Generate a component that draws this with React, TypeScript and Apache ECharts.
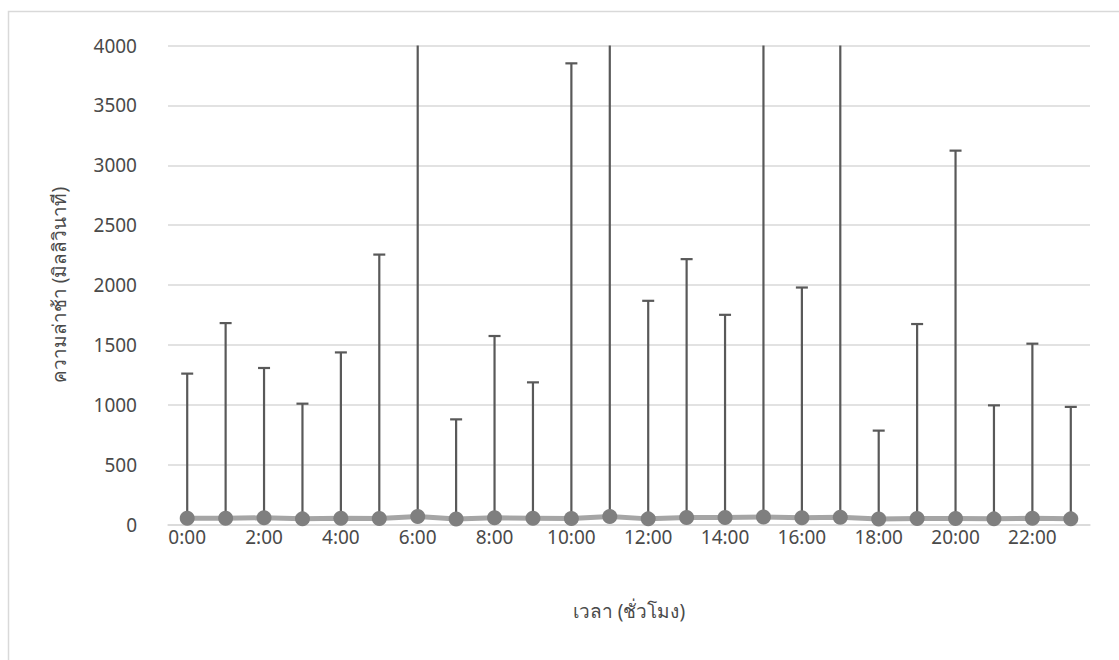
import React, { useEffect, useRef } from "react";
import * as echarts from "echarts";

const hours = [
  "0:00", "1:00", "2:00", "3:00", "4:00", "5:00", "6:00", "7:00", "8:00", "9:00", "10:00", "11:00",
  "12:00", "13:00", "14:00", "15:00", "16:00", "17:00", "18:00", "19:00", "20:00", "21:00", "22:00", "23:00",
];
const meanDelay = [53, 53, 56, 47, 53, 50, 67, 45, 56, 53, 50, 67, 47, 58, 58, 62, 56, 60, 45, 50, 50, 47, 53, 47];
const upperBound = [1260, 1682, 1307, 1009, 1437, 2254, 4600, 878, 1574, 1187, 3851, 4600, 1868, 2216, 1751, 4600, 1979, 4600, 784, 1674, 3122, 995, 1510, 982];
const yTicks = { min: 0, max: 4000, interval: 500 };
const xAxisTitle = "เวลา (ชั่วโมง)";
const yAxisTitle = "ความล่าช้า (มิลลิวินาที)";

const FONT = "'Noto Sans', 'Open Sans', 'DejaVu Sans', sans-serif";
const TEXT = "#4a4a4a";

export default function App() {
  const ref = useRef<HTMLDivElement>(null);
  useEffect(() => {
    if (!ref.current) return;
    const chart = echarts.init(ref.current, null, { renderer: "svg" });
    const errData = hours.map((_, i) => [i, meanDelay[i], upperBound[i]]);
    chart.setOption({
      animation: false,
      backgroundColor: "#ffffff",
      textStyle: { fontFamily: FONT },
      graphic: [
        {
          type: "rect",
          shape: { x: 8.5, y: 11.5, width: 1200, height: 700 },
          style: { fill: "none", stroke: "#D9D9D9", lineWidth: 1.5 },
          silent: true,
          z: -10,
        },
      ],
      grid: { left: 168, right: 29, top: 45.5, bottom: 135.5 },
      xAxis: {
        type: "category",
        data: hours,
        boundaryGap: true,
        axisLine: { show: true, lineStyle: { color: "#D9D9D9", width: 1.5 } },
        axisTick: { show: false },
        axisLabel: { interval: 1, color: TEXT, fontSize: 19, margin: 3, fontFamily: FONT },
        name: xAxisTitle,
        nameLocation: "middle",
        nameGap: 77,
        nameTextStyle: { color: TEXT, fontSize: 19, fontFamily: FONT },
      },
      yAxis: {
        type: "value",
        min: yTicks.min,
        max: yTicks.max,
        interval: yTicks.interval,
        axisLine: { show: false },
        axisTick: { show: false },
        splitLine: { lineStyle: { color: "#D9D9D9", width: 1.5 } },
        axisLabel: {
          color: TEXT,
          fontSize: 19,
          margin: 31,
          fontFamily: FONT,
          formatter: (v: number) => String(v),
        },
        name: yAxisTitle,
        nameLocation: "middle",
        nameGap: 100,
        nameRotate: 90,
        nameTextStyle: { color: TEXT, fontSize: 19, fontFamily: FONT },
      },
      series: [
        {
          type: "custom",
          name: "error",
          data: errData,
          z: 1,
          encode: { x: 0, y: [1, 2] },
          renderItem: (params: any, api: any) => {
            const x = api.value(0);
            const lo = api.value(1);
            const hiRaw = api.value(2);
            const hi = Math.min(hiRaw, yTicks.max);
            const p0 = api.coord([x, lo]);
            const p1 = api.coord([x, hi]);
            const style = { stroke: "#595959", lineWidth: 2.2 };
            const children: any[] = [
              { type: "line", shape: { x1: p0[0], y1: p0[1], x2: p1[0], y2: p1[1] }, style },
            ];
            if (hiRaw <= yTicks.max) {
              children.push({
                type: "line",
                shape: { x1: p1[0] - 6, y1: p1[1], x2: p1[0] + 6, y2: p1[1] },
                style,
              });
            }
            return { type: "group", children };
          },
        },
        {
          type: "line",
          name: "mean",
          data: meanDelay,
          z: 3,
          symbol: "circle",
          symbolSize: 15,
          lineStyle: { color: "#A5A5A5", width: 5 },
          itemStyle: { color: "#7F7F7F" },
        },
      ],
    });
    return () => chart.dispose();
  }, []);
  return (
    <div
      ref={ref}
      style={{ position: "absolute", left: 0, top: 0, width: 1119, height: 660 }}
    />
  );
}
